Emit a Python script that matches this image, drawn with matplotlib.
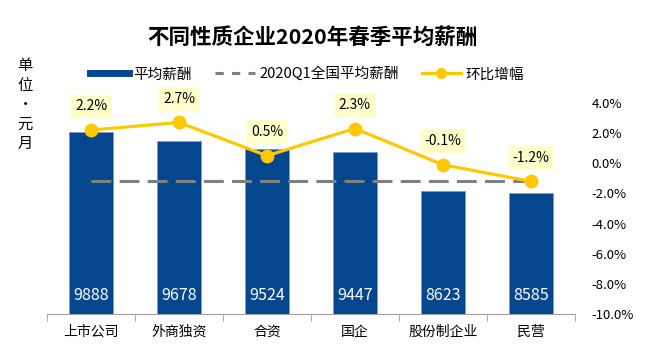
import numpy as np
import matplotlib
matplotlib.use('Agg')
from matplotlib import pyplot as plt
from matplotlib.lines import Line2D

plt.rcParams['font.family'] = ['Noto Sans CJK SC', 'DejaVu Sans']

# data
categories = ['上市公司', '外商独资', '合资', '国企', '股份制企业', '民营']
avg_salary = [9888, 9678, 9524, 9447, 8623, 8585]
national_avg = 8829
qoq_growth = [2.2, 2.7, 0.5, 2.3, -0.1, -1.2]
right_ticks = [4, 2, 0, -2, -4, -6, -8, -10]

bar_color = '#05478F'
line_color = '#FFC800'
dash_color = '#808080'
box_color = '#FFFFCC'

fig = plt.figure(figsize=(6.46, 3.61), dpi=100)
ax = fig.add_axes([0.0728, 0.130, 0.817, 0.585])
x = np.arange(len(categories))

# bars
ax.bar(x, avg_salary, width=0.5, color=bar_color, edgecolor='#7F9CC4', linewidth=0.6, zorder=2)
for xi, v in zip(x, avg_salary):
    ax.text(xi, 6000 + 4500 * 0.09, str(v), color='white', ha='center', va='center', fontsize=11.5, zorder=3)

# national average dashed line
ax.plot(x, [national_avg] * len(x), color=dash_color, lw=2.2, dashes=(6.5, 2.7), zorder=3)

ax.set_ylim(6000, 10500)
ax.set_xlim(-0.5, len(x) - 0.5)
ax.set_yticks([])
for s in ['left', 'right', 'top']:
    ax.spines[s].set_visible(False)
ax.spines['bottom'].set_color('#A0A0A0')
ax.set_xticks(x)
ax.set_xticklabels(categories, fontsize=10)
ax.tick_params(axis='x', which='major', length=0, pad=8)
ax.set_xticks(np.arange(-0.5, len(x)), minor=True)
ax.tick_params(axis='x', which='minor', length=5, color='#A0A0A0')

# growth line on right axis
ax2 = ax.twinx()
ax2.plot(x, qoq_growth, color=line_color, lw=2.3, marker='o', markersize=9, zorder=4)
for xi, g in zip(x, qoq_growth):
    ax2.annotate(f'{g:.1f}%', (xi, g), xytext=(0, 17), textcoords='offset points',
                 ha='center', va='center', fontsize=10,
                 bbox=dict(boxstyle='square,pad=0.35', fc=box_color, ec='none'))
ax2.set_ylim(-10, 4)
ax2.set_yticks(right_ticks)
ax2.set_yticklabels([f'{t:.1f}%' for t in right_ticks], fontsize=9.5)
ax2.tick_params(axis='y', length=0, pad=12)
for s in ['left', 'right', 'top', 'bottom']:
    ax2.spines[s].set_visible(False)

# title and unit label
fig.text(0.483, 0.897, '不同性质企业2020年春季平均薪酬', ha='center', va='center',
         fontsize=15.5, fontweight='bold')
fig.text(0.039, 0.71, '单\n位\n·\n元\n月', ha='center', va='center', fontsize=11, linespacing=1.2)

# legend
handles = [Line2D([], [], color=bar_color, lw=5),
           Line2D([], [], color=dash_color, lw=2.2, dashes=(2.7, 2.7)),
           Line2D([], [], color=line_color, lw=2.3, marker='o', markersize=7)]
labels = ['平均薪酬', '2020Q1全国平均薪酬', '环比增幅']
fig.legend(handles, labels, loc='center', bbox_to_anchor=(0.475, 0.795), ncol=3,
           frameon=False, fontsize=10.5, handlelength=2.7, handletextpad=0.3, columnspacing=1.6)

fig.savefig('out.png', dpi=100)
